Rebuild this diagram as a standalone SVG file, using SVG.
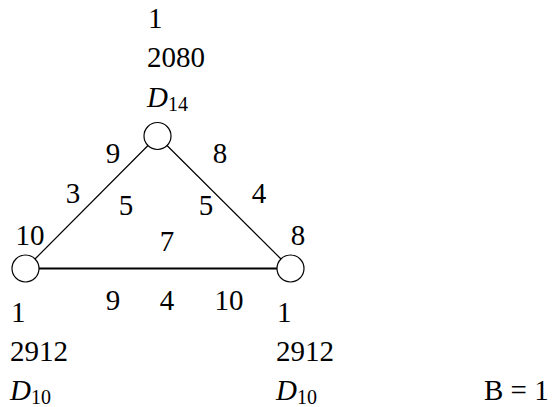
<svg xmlns="http://www.w3.org/2000/svg" width="558" height="407" viewBox="0 0 558 407">
<style>
text{font-family:Liberation Serif,Tinos,Times New Roman,serif;font-size:29px;fill:#000}
.i{font-style:italic}
.s{font-size:20px;font-style:normal}
.m{text-anchor:middle}
.n{fill:#fff;stroke:#000;stroke-width:1.2}
.e{stroke:#000;stroke-width:1.2;fill:none}
.h{stroke-width:2.2}
</style>
<rect width="558" height="407" fill="#fff"/>
<g id="connectors">
<line class="e" x1="148" y1="145.5" x2="35" y2="259"/>
<line class="e" x1="167" y1="145.5" x2="281" y2="259"/>
<line class="e h" x1="39" y1="268.5" x2="277" y2="268.5"/>
</g>
<g id="edge-labels">
<text class="m" x="113" y="163" font-family="Liberation Serif">9</text>
<text class="m" x="220" y="163" font-family="Liberation Serif">8</text>
<text class="m" x="73" y="203" font-family="Liberation Serif">3</text>
<text class="m" x="126" y="215" font-family="Liberation Serif">5</text>
<text class="m" x="206" y="215" font-family="Liberation Serif">5</text>
<text class="m" x="259" y="203" font-family="Liberation Serif">4</text>
<text class="m" x="30" y="245" font-family="Liberation Serif">10</text>
<text class="m" x="167" y="251" font-family="Liberation Serif">7</text>
<text class="m" x="298" y="245" font-family="Liberation Serif">8</text>
<text class="m" x="113" y="310" font-family="Liberation Serif">9</text>
<text class="m" x="167" y="310" font-family="Liberation Serif">4</text>
<text class="m" x="229" y="310" font-family="Liberation Serif">10</text>
</g>
<g id="node-top">
<circle class="n" cx="157.5" cy="136" r="13.5"/>
<text x="148" y="28" font-family="Liberation Serif">1</text>
<text x="147" y="67" font-family="Liberation Serif">2080</text>
<text class="i" x="147" y="107" font-family="Liberation Serif">D<tspan class="s" dy="4">14</tspan></text>
</g>
<g id="node-left">
<circle class="n" cx="25.5" cy="268.5" r="13.5"/>
<text x="11" y="322" font-family="Liberation Serif">1</text>
<text x="10" y="361" font-family="Liberation Serif">2912</text>
<text class="i" x="10" y="400" font-family="Liberation Serif">D<tspan class="s" dy="4">10</tspan></text>
</g>
<g id="node-right">
<circle class="n" cx="290.5" cy="268.5" r="13.5"/>
<text x="277" y="322" font-family="Liberation Serif">1</text>
<text x="276" y="361" font-family="Liberation Serif">2912</text>
<text class="i" x="276" y="400" font-family="Liberation Serif">D<tspan class="s" dy="4">10</tspan></text>
</g>
<text x="484" y="400" font-family="Liberation Serif">B = 1</text>
</svg>
